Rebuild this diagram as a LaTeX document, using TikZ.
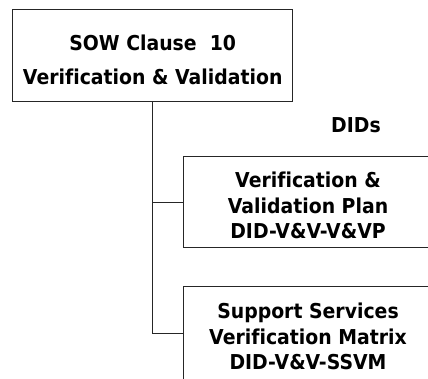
\documentclass[tikz,border=0pt]{standalone}
\usepackage{fontspec}
\setmainfont{DejaVu Sans}[Ligatures=NoCommon, BoldFont={DejaVu Sans Bold},
  BoldFeatures={FakeStretch=0.92}]
\begin{document}
\begin{tikzpicture}[x=1pt,y=1pt,
  box/.style={draw=black!85, line width=1pt, align=center, inner sep=0pt,
    font=\bfseries\fontsize{20.5}{25.5}\selectfont},
  link/.style={draw=black!85, line width=1pt}]
\useasboundingbox (0,0) rectangle (428,378);
% parent clause box
\node[box, minimum width=280pt, minimum height=92.4pt,
  font=\bfseries\fontsize{20.5}{34}\selectfont] (sow) at (152.7,322.5)
  {\rule{0pt}{25pt}SOW Clause~ 10\\Verification \& Validation};
\node[font=\bfseries\fontsize{20.5}{25}\selectfont] (dids) at (356,253) {DIDs};
% data item descriptions
\node[box, minimum width=250pt, minimum height=91pt] (vvp) at (308,175.8)
  {\rule{0pt}{22pt}Verification \&\\Validation Plan\\DID-V\&V-V\&VP};
\node[box, minimum width=250pt, minimum height=93pt] (ssvm) at (308,44.7)
  {\rule{0pt}{22pt}Support Services\\Verification Matrix\\DID-V\&V-SSVM};
% tree connectors
\draw[link] (sow.south) -- (sow.south |- ssvm.west) -- (ssvm.west);
\draw[link] (sow.south |- vvp.west) -- (vvp.west);
\end{tikzpicture}
\end{document}
